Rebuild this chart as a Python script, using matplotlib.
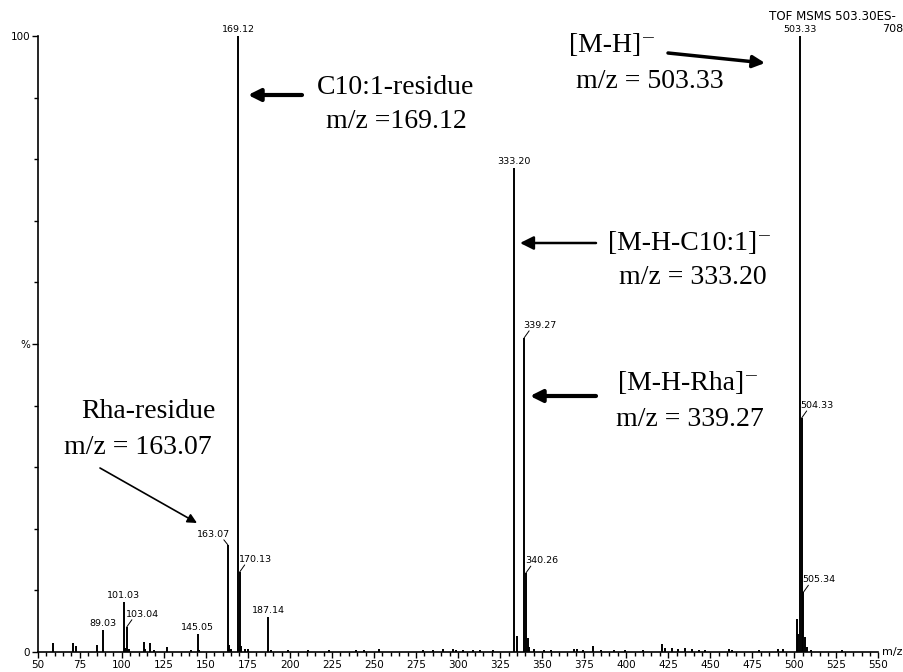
import matplotlib
matplotlib.use('Agg')
import matplotlib.pyplot as plt
from matplotlib.ticker import MultipleLocator, FixedLocator

# ---- data ----
mz = [59.0, 71.0, 73.0, 85.0, 89.03, 101.03, 102.0, 103.04, 104.0, 113.0, 114.0,
      117.0, 119.0, 127.0, 141.0, 145.05, 146.0, 163.07, 164.0, 165.0, 169.12,
      170.13, 171.1, 173.0, 175.0, 187.14, 189.0, 199.0, 211.0, 223.0, 239.0,
      244.0, 253.0, 279.0, 285.0, 291.0, 297.0, 299.0, 303.0, 309.0, 313.0,
      321.0, 333.20, 334.9, 339.27, 340.26, 341.3, 342.3, 345.0, 351.0, 355.0,
      369.0, 371.0, 374.0, 380.0, 385.0, 393.0, 399.0, 410.0, 421.0, 423.0,
      427.0, 431.0, 435.0, 439.0, 443.0, 447.0, 461.0, 463.0, 479.0, 490.0,
      493.0, 501.6, 502.3, 503.33, 504.33, 505.34, 506.3, 507.3, 510.0, 528.0]
intensity = [1.5, 1.5, 1.0, 1.2, 3.6, 8.1, 0.6, 4.1, 0.5, 1.6, 0.5,
             1.4, 0.4, 0.8, 0.4, 2.9, 0.4, 17.4, 1.2, 0.5, 100.0,
             13.0, 1.0, 0.5, 0.5, 5.7, 0.3, 0.3, 0.3, 0.3, 0.4,
             0.3, 0.5, 0.3, 0.4, 0.5, 0.5, 0.4, 0.4, 0.3, 0.4,
             0.4, 78.6, 2.6, 51.0, 12.8, 2.3, 0.8, 0.5, 0.4, 0.4,
             0.5, 0.5, 0.4, 1.0, 0.3, 0.4, 0.3, 0.3, 1.3, 0.7,
             0.6, 0.5, 0.6, 0.5, 0.4, 0.4, 0.5, 0.4, 0.3, 0.5,
             0.5, 5.4, 3.0, 100.0, 38.0, 9.7, 2.4, 0.8, 0.4, 0.3]

peak_label_mz = [89.03, 101.03, 103.04, 145.05, 163.07, 169.12, 170.13, 187.14,
                 333.20, 339.27, 340.26, 503.33, 504.33, 505.34]
peak_label_text = ["89.03", "101.03", "103.04", "145.05", "163.07", "169.12", "170.13",
                   "187.14", "333.20", "339.27", "340.26", "503.33", "504.33", "505.34"]
# label style: 'c' centered above, 'r' right with connector, 'l' left with connector
peak_label_style = ['c', 'c', 'r', 'c', 'l', 'c', 'r', 'c', 'c', 'r', 'r', 'c', 'r', 'r']

x_ticks_major = 25
y_tick_pos = [0, 50, 100]
y_tick_labels = ['0', '%', '100']

W, H = 904, 672
fig = plt.figure(figsize=(W / 100, H / 100), dpi=100)
ax = fig.add_axes([37.7 / W, 20 / H, 840.8 / W, 616 / H])

ax.vlines(mz, 0, intensity, color='black', lw=1.4)
ax.set_xlim(50, 550)
ax.set_ylim(0, 100)
for s in ('top', 'right'):
    ax.spines[s].set_visible(False)
for s in ('left', 'bottom'):
    ax.spines[s].set_linewidth(1.2)

ax.xaxis.set_major_locator(MultipleLocator(x_ticks_major))
ax.xaxis.set_minor_locator(MultipleLocator(5))
ax.yaxis.set_major_locator(FixedLocator(y_tick_pos))
ax.set_yticklabels(y_tick_labels)
ax.yaxis.set_minor_locator(MultipleLocator(10))
ax.tick_params(axis='both', which='major', length=4, width=1.0, labelsize=7.5, pad=1.5)
ax.tick_params(axis='both', which='minor', length=3, width=1.0)

# ---- peak labels ----
pt = 0.72  # points per pixel at dpi 100
inten_of = dict(zip(mz, intensity))
for m, t, st in zip(peak_label_mz, peak_label_text, peak_label_style):
    h = inten_of[m]
    if st == 'c':
        ax.annotate(t, xy=(m, h), xytext=(0, 2 * pt), textcoords='offset points',
                    ha='center', va='bottom', fontsize=6.8)
    elif st == 'r':
        ax.annotate('', xy=(m, h), xytext=(5 * pt, 7 * pt), textcoords='offset points',
                    arrowprops=dict(arrowstyle='-', lw=0.7, color='black',
                                    shrinkA=0, shrinkB=0))
        ax.annotate(t, xy=(m, h), xytext=(-1 * pt, 8 * pt), textcoords='offset points',
                    ha='left', va='bottom', fontsize=6.8)
    else:
        ax.annotate('', xy=(m, h), xytext=(-4 * pt, 5 * pt), textcoords='offset points',
                    arrowprops=dict(arrowstyle='-', lw=0.7, color='black',
                                    shrinkA=0, shrinkB=0))
        ax.annotate(t, xy=(m, h), xytext=(2 * pt, 6 * pt), textcoords='offset points',
                    ha='right', va='bottom', fontsize=6.8)

# ---- header text ----
def F(x, y):
    return (x / W, 1 - y / H)

fig.text(*F(769, 16), 'TOF MSMS 503.30ES-', fontsize=8.6, ha='left', va='center')
fig.text(*F(903, 29), '708', fontsize=8, ha='right', va='center')
fig.text(*F(882, 652), 'm/z', fontsize=8, ha='left', va='center')

# ---- annotations ----
serif = ['Liberation Serif', 'DejaVu Serif']
fs = 20

def T(x, y, s, ha='center'):
    fig.text(*F(x, y), s, family=serif, fontsize=fs, ha=ha, va='center')

def A(x0, y0, x1, y1, lw, ms):
    ax.annotate('', xy=(x1, H - y1), xytext=(x0, H - y0), xycoords='figure pixels',
                textcoords='figure pixels',
                arrowprops=dict(arrowstyle='-|>', lw=lw, color='black',
                                mutation_scale=ms, shrinkA=0, shrinkB=0))

T(396, 88, 'C10:1-residue')
T(396, 122, 'm/z =169.12')
A(302, 95, 248, 95, 3, 18)

T(612, 46, '[M-H]⁻')
T(650, 82, 'm/z = 503.33')
A(668, 53, 765, 63, 2.5, 18)

T(690, 244, '[M-H-C10:1]⁻')
T(693, 278, 'm/z = 333.20')
A(596, 243, 520, 243, 1.8, 20)

T(688, 384, '[M-H-Rha]⁻')
T(690, 420, 'm/z = 339.27')
A(596, 396, 530, 396, 3, 18)

T(148, 412, 'Rha-residue')
T(138, 447, 'm/z = 163.07')
A(100, 468, 197, 523, 1.2, 14)

fig.savefig('out.png', dpi=100)
